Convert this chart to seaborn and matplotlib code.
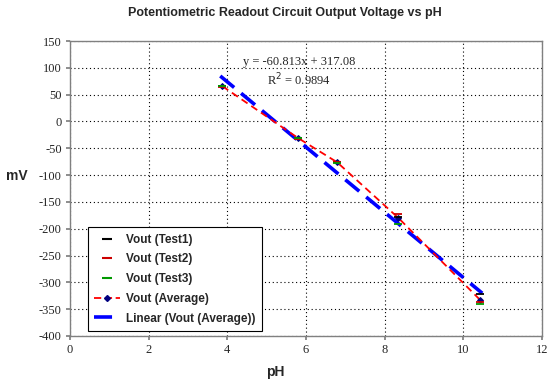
import matplotlib
matplotlib.use("Agg")
import matplotlib.pyplot as plt
import seaborn as sns
import numpy as np
import pandas as pd
from matplotlib.lines import Line2D

ph = [3.87, 5.80, 6.79, 8.35, 10.43]
test1 = [66, -30, -75, -178, -322]
test2 = [65, -32, -76, -172, -337]
test3 = [67, -31, -77, -191, -340]
average = [66, -31, -76, -180, -333]
slope = -60.813
intercept = 317.08
r2 = 0.9894
xticks = [0, 2, 4, 6, 8, 10, 12]
yticks = list(range(-400, 151, 50))

sns.set_theme(style="white")
plt.rcParams['font.family'] = ['DejaVu Sans']

fig = plt.figure(figsize=(5.5, 3.81), dpi=100)
ax = fig.add_axes([70/550, 45/381, 472/550, 295/381])

df = pd.DataFrame({"pH": ph, "t1": test1, "t2": test2, "t3": test3, "avg": average})
fit_x = np.array([ph[0] - 0.05, ph[-1] + 0.05])
fit_df = pd.DataFrame({"pH": fit_x, "fit": slope * fit_x + intercept})

sns.lineplot(data=fit_df, x="pH", y="fit", ax=ax, color="#0000FF", linewidth=2.6,
             dashes=False, zorder=3)
ax.lines[-1].set_dashes([5, 2.5])
sns.lineplot(data=df, x="pH", y="avg", ax=ax, color="#FF0000", linewidth=1.3, zorder=4)
ax.lines[-1].set_dashes([4, 2.5])
ax.lines[-1].set_marker("D")
ax.lines[-1].set_markersize(3)
ax.lines[-1].set_markerfacecolor("#000080")
ax.lines[-1].set_markeredgecolor("#000080")
for col, c in [("t1", "black"), ("t2", "#CC0000"), ("t3", "#009900")]:
    sns.scatterplot(data=df, x="pH", y=col, ax=ax, marker="_", s=35, color=c,
                    linewidth=1.3, zorder=5)

ax.set_xlim(0, 12)
ax.set_ylim(-400, 150)
ax.set_xticks(xticks)
ax.set_yticks(yticks)
ax.set_xticklabels([str(v) for v in xticks], family="Liberation Serif", fontsize=9)
ax.set_yticklabels([str(v) for v in yticks], family="Liberation Serif", fontsize=9)
ax.grid(True, color="black", linestyle=(0, (1, 2.5)), linewidth=0.8)
ax.tick_params(axis="both", length=3, direction="out", color="gray", pad=3,
               bottom=True, left=True)
for s in ax.spines.values():
    s.set_color("#808080")
    s.set_linewidth(1.0)

ax.set_xlabel("")
ax.set_ylabel("")
fig.text(275/550, 1 - 372/381, "pH", ha="center", va="center", fontsize=10, fontweight="bold",
         family="Liberation Sans")
fig.text(17/550, 1 - 176/381, "mV", ha="center", va="center", fontsize=10, fontweight="bold",
         family="Liberation Sans")
fig.text(285/550, 1 - 13/381, "Potentiometric Readout Circuit Output Voltage vs pH",
         ha="center", va="center", fontsize=9, fontweight="bold", family="Liberation Sans")

ax.text(5.82, 111, f"y = {slope}x + {intercept}", ha="center", va="center",
        fontsize=9, family="Liberation Serif")
ax.text(5.82, 77, f"R$^2$ = {r2}", ha="center", va="center",
        fontsize=9, family="Liberation Serif")

handles = [
    Line2D([], [], color="black", marker="_", linestyle="none", markersize=7, markeredgewidth=1.5),
    Line2D([], [], color="#CC0000", marker="_", linestyle="none", markersize=7, markeredgewidth=1.5),
    Line2D([], [], color="#009900", marker="_", linestyle="none", markersize=7, markeredgewidth=1.5),
    Line2D([], [], color="#FF0000", linestyle=(0, (4, 2)), linewidth=1.3, marker="D",
           markersize=3, markerfacecolor="#000080", markeredgecolor="#000080"),
    Line2D([], [], color="#0000FF", linestyle=(0, (5, 2.5)), linewidth=2.6),
]
labels = ["Vout (Test1)", "Vout (Test2)", "Vout (Test3)", "Vout (Average)",
          "Linear (Vout (Average))"]
leg = ax.legend(handles, labels, loc="lower left", bbox_to_anchor=(18/472, 5/295),
                prop={"family": "Liberation Sans", "weight": "bold", "size": 8.5},
                frameon=True, fancybox=False, edgecolor="black", framealpha=1,
                handlelength=2.2, handletextpad=0.5, labelspacing=0.65, borderpad=0.55,
                borderaxespad=0)
leg.get_frame().set_linewidth(0.8)

fig.savefig("out.png", dpi=100)
